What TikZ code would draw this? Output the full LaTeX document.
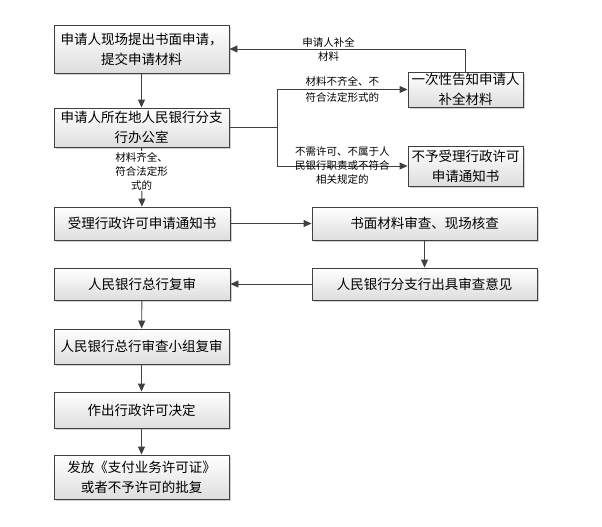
\documentclass[tikz,border=0pt]{standalone}
\usepackage{fontspec}
\setmainfont{Noto Sans CJK SC}
\usetikzlibrary{arrows.meta, positioning, shadows}
\definecolor{boxline}{RGB}{64, 64, 64}
\definecolor{boxshade}{RGB}{222, 222, 222}
\tikzset{
  stepbox/.style={draw=boxline, line width=0.9pt, top color=white, bottom color=boxshade,
    drop shadow={shadow xshift=2pt, shadow yshift=-2pt, fill=black!35},
    align=center, inner sep=1pt, font=\fontsize{13.5}{20}\selectfont},
  flow/.style={draw=boxline, line width=0.9pt, -{Triangle[length=8pt, width=7pt]}},
  note/.style={align=center, inner sep=1pt, font=\fontsize{10.5}{14}\selectfont}
}

\begin{document}
\begin{tikzpicture}[x=1pt, y=-1pt]
  \useasboundingbox (0, 0) rectangle (602, 527);
  % left column
  \node[stepbox, minimum width=175pt, minimum height=48pt] (apply) at (141.5, 49) {申请人现场提出书面申请，\\提交申请材料};
  \node[stepbox, minimum width=175pt, minimum height=39pt] (office) at (141.5, 127.5) {申请人所在地人民银行分支\\行办公室};
  \node[stepbox, minimum width=176pt, minimum height=33pt] (accept) at (142, 223.5) {受理行政许可申请通知书};
  \node[stepbox, minimum width=176pt, minimum height=32pt] (hqreview) at (142, 284) {人民银行总行复审};
  \node[stepbox, minimum width=175pt, minimum height=35pt] (panel) at (141.5, 346.5) {人民银行总行审查小组复审};
  \node[stepbox, minimum width=175pt, minimum height=36pt] (decide) at (141.5, 410) {作出行政许可决定};
  \node[stepbox, minimum width=175pt, minimum height=44pt] (issue) at (141.5, 477) {发放《支付业务许可证》\\或者不予许可的批复};
  % right column
  \node[stepbox, minimum width=115pt, minimum height=35pt] (notify) at (465.5, 89.5) {一次性告知申请人\\补全材料};
  \node[stepbox, minimum width=115pt, minimum height=40pt] (reject) at (465.5, 166) {不予受理行政许可\\申请通知书};
  \node[stepbox, minimum width=225pt, minimum height=33pt] (check) at (424.5, 223.5) {书面材料审查、现场核查};
  \node[stepbox, minimum width=225pt, minimum height=32pt] (opinion) at (424.5, 284) {人民银行分支行出具审查意见};
  \coordinate (split) at (277, 127.5);

  % connectors
  \draw[flow] (apply) -- (office);
  \draw[flow] (office) -- node[note, fill=white, pos=0.4] {材料齐全、\\符合法定形\\式的} (accept);
  \draw[draw=boxline, line width=0.9pt] (office.east) -- (split);
  \draw[flow] (split) |- node[note, pos=0.75, font=\fontsize{10.5}{16}\selectfont] {材料不齐全、不\\符合法定形式的} (notify.west);
  \draw[flow] (split) |- node[note, pos=0.75] {不需许可、不属于人\\民银行职责或不符合\\相关规定的} (reject.west);
  \draw[flow] (notify.north) |- node[note, pos=0.79] {申请人补全\\材料} (apply.east);
  \draw[flow] (accept) -- (check);
  \draw[flow] (check) -- (opinion);
  \draw[flow] (opinion) -- (hqreview);
  \draw[flow] (hqreview) -- (panel);
  \draw[flow] (panel) -- (decide);
  \draw[flow] (decide) -- (issue);
\end{tikzpicture}
\end{document}
